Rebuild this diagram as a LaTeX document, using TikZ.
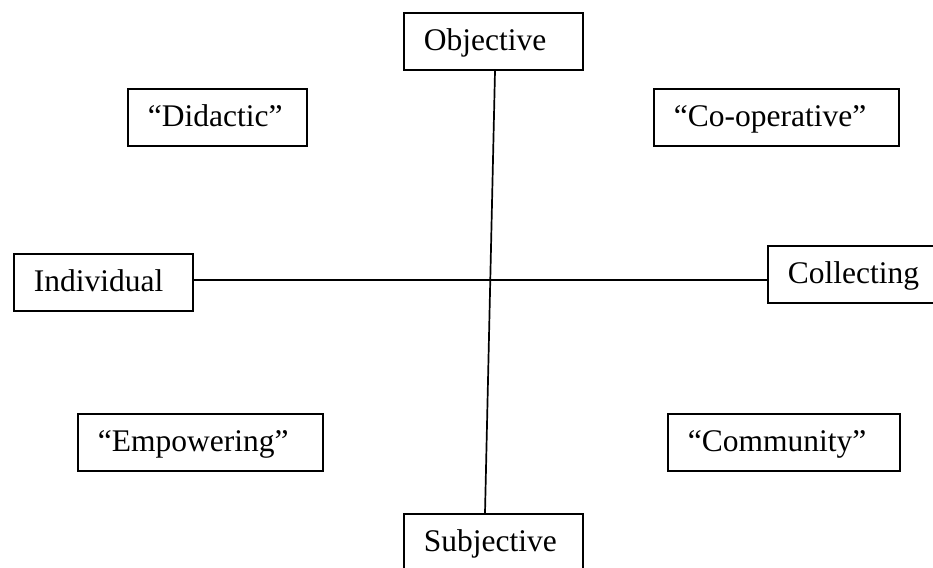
\documentclass[tikz,border=0pt]{standalone}
\usepackage{fontspec}
\setmainfont{Liberation Serif}
\begin{document}
\begin{tikzpicture}[x=1pt,y=-1pt,
  labelbox/.style={draw, line width=1.9pt, anchor=north west, inner xsep=20pt, inner ysep=0pt,
    align=left, minimum height=57pt, text height=24pt, text depth=5pt,
    font=\fontsize{31.5}{36}\selectfont},
  axis/.style={line width=1.7pt}]
\useasboundingbox (0,0) rectangle (933,567);
\node[labelbox, text width=139pt] (obj) at (403,12) {\mbox{Objective}};
\node[labelbox, text width=139pt] (did) at (127,88) {\mbox{“Didactic”}};
\node[labelbox, text width=205pt] (coop) at (653,88) {\mbox{“Co-operative”}};
\node[labelbox, text width=139pt] (ind) at (13,253) {\mbox{Individual}};
\node[labelbox, text width=160pt] (col) at (767,245) {\mbox{Collecting}};
\node[labelbox, text width=205pt] (emp) at (77,413) {\mbox{“Empowering”}};
\node[labelbox, text width=192pt] (com) at (667,413) {\mbox{“Community”}};
\node[labelbox, text width=139pt, minimum height=64pt, text depth=12pt] (sub) at (403,513) {\mbox{Subjective}};
\coordinate (vtop) at ([xshift=92pt]obj.south west);
\coordinate (vbot) at ([xshift=82pt]sub.north west);
\coordinate (hy) at (0,280);
\draw[axis] (vtop) -- (vbot);
\draw[axis] (ind.east |- hy) -- (col.west |- hy);
\end{tikzpicture}
\end{document}
